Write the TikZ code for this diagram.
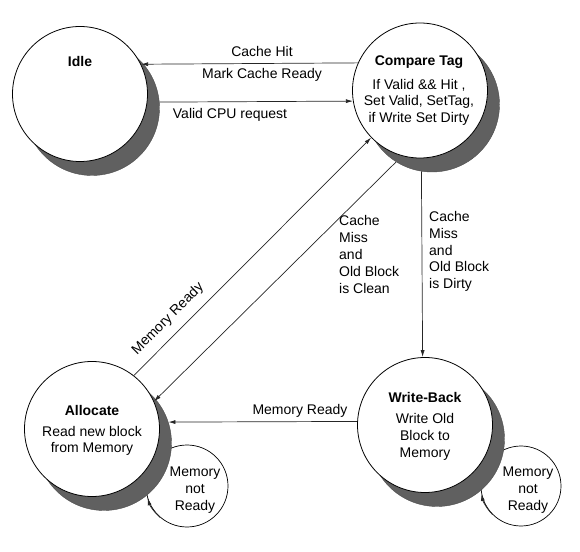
\documentclass[tikz,border=0pt]{standalone}
\usepackage{fontspec}
\setmainfont{Liberation Sans}
\usetikzlibrary{arrows.meta}
\definecolor{shadowgray}{RGB}{96,96,96}
\begin{document}
\begin{tikzpicture}[x=1pt,y=1pt,
  state/.style={circle,draw=black,line width=0.8pt,fill=white,minimum size=135pt,inner sep=0pt},
  shadowc/.style={circle,fill=shadowgray,draw=shadowgray!80!black,line width=0.4pt,minimum size=135pt,inner sep=0pt},
  loopc/.style={circle,draw=black,line width=0.7pt,fill=white,inner sep=0pt},
  conn/.style={draw=black!85,line width=0.7pt},
  arr/.style={conn,-{Latex[length=7pt,width=4pt]}},
  title/.style={font=\fontsize{14}{17}\selectfont\bfseries,inner sep=0pt},
  txt/.style={font=\fontsize{14}{16.5}\selectfont,inner sep=0pt,align=center},
  lbl/.style={font=\fontsize{14}{16.8}\selectfont,inner sep=0pt,align=left}
]
\useasboundingbox (0,0) rectangle (580,551);

% self-loop circles (behind)
\node[loopc,minimum size=82pt] (loopA) at (187,65) {};
\node[loopc,minimum size=80pt] (loopW) at (521,65) {};

% shadows
\node[shadowc] (idleS) at (92,443) {};
\node[shadowc] (ctS) at (432,446.5) {};
\node[shadowc] (allocS) at (104,108) {};
\node[shadowc] (wbS) at (437,112) {};

% states
\node[state] (idle) at (80,457) {};
\node[state] (ct) at (420,460.5) {};
\node[state] (alloc) at (92,122) {};
\node[state] (wb) at (425,126) {};

% state texts
\node[title] (idleT) at (80,489) {Idle};
\node[title] (ctT) at (419,489) {Compare Tag};
\node[txt] (ctB) at (419,449) {If Valid \&\& Hit ,\\Set Valid, SetTag,\\if Write Set Dirty};
\node[title] (allocT) at (92,141) {Allocate};
\node[txt] (allocB) at (92,110) {Read new block\\from Memory};
\node[title] (wbT) at (425,154) {Write-Back};
\node[txt,font=\fontsize{14}{17}\selectfont] (wbB) at (425,114) {Write Old\\Block to\\Memory};
\node[txt,font=\fontsize{14}{17}\selectfont] (loopAT) at (195,61) {Memory\\not\\Ready};
\node[txt,font=\fontsize{14}{17}\selectfont] (loopWT) at (528,61) {Memory\\not\\Ready};

% connectors
\draw[arr] (ct.156.4) -- (idle.26.9);
\draw[arr] (idleS.5.5) -- (ct.189.4);
\draw[arr] (ctS.261.5) -- (wb.92.5);
\draw[arr] (wb.177.5) -- (allocS.18.1);
\draw[arr] (alloc.52.8) -- (ct.224);
\draw[arr] (ctS.238) -- (alloc.24);
\draw[arr] (loopA.230) arc[start angle=230,end angle=197,radius=41pt];
\draw[arr] (loopW.225) arc[start angle=225,end angle=191,radius=40pt];

% edge labels
\node[txt] (lHit) at (262,499) {Cache Hit};
\node[txt] (lMark) at (262,476) {Mark Cache Ready};
\node[txt] (lValid) at (230,436) {Valid CPU request};
\node[txt] (lMemH) at (300,140) {Memory Ready};
\node[txt,rotate=45] (lMemD) at (168,232) {Memory Ready};
\node[lbl,anchor=west] (lClean) at (339,296.5) {Cache\\Miss\\and\\Old Block\\is Clean};
\node[lbl,anchor=west] (lDirty) at (429,299.5) {Cache\\Miss\\and\\Old Block\\is Dirty};
\end{tikzpicture}
\end{document}
